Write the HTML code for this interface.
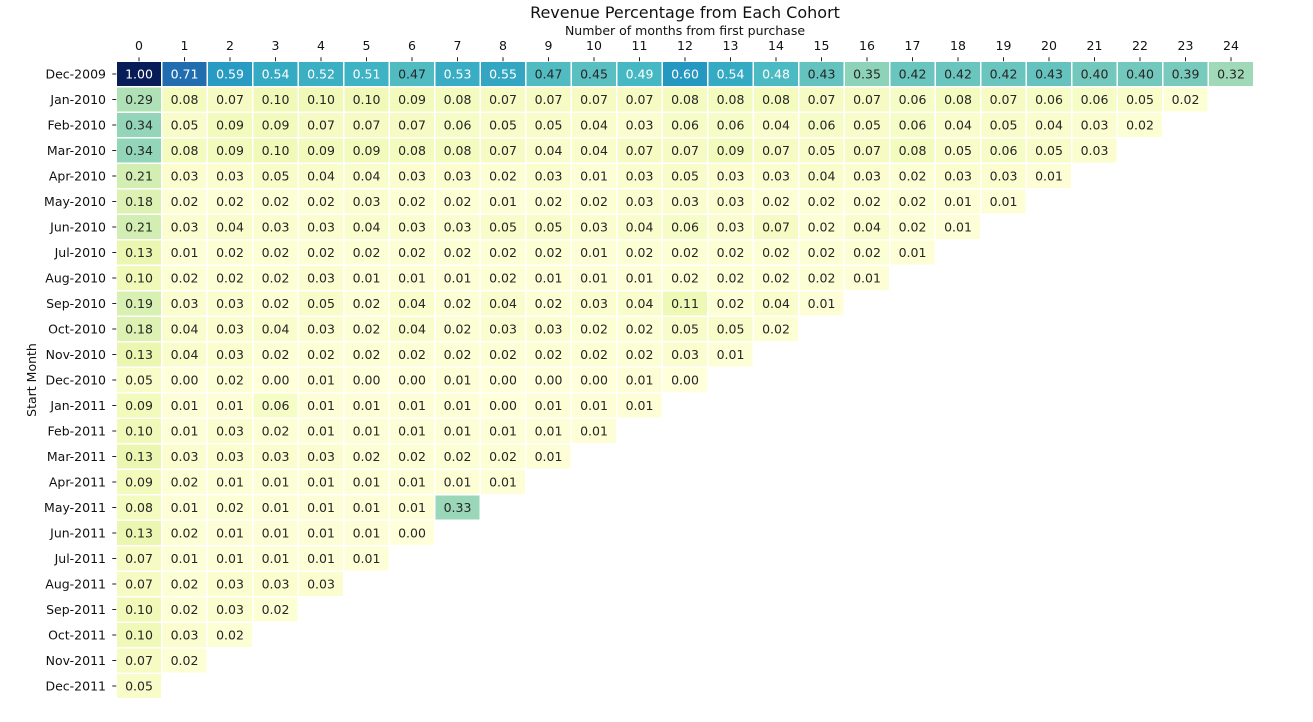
<!DOCTYPE html>
<html><head><meta charset="utf-8"><style>
body{margin:0;background:#fff;font-family:"Liberation Sans","DejaVu Sans",sans-serif;}
svg text{font-family:"DejaVu Sans","Liberation Sans",sans-serif;}
</style></head><body>
<svg id="chart" width="1313" height="717" xmlns="http://www.w3.org/2000/svg">
<text x="685" y="18" text-anchor="middle" font-size="16" fill="#111">Revenue Percentage from Each Cohort</text>
<text x="685" y="35" text-anchor="middle" font-size="12.5" fill="#111">Number of months from first purchase</text>
<text transform="translate(36,380) rotate(-90)" text-anchor="middle" font-size="12.5" fill="#111">Start Month</text>
<g id="cells"></g><g id="xt"></g><g id="yt"></g>
</svg>
<script>
const rowLabels=["Dec-2009","Jan-2010","Feb-2010","Mar-2010","Apr-2010","May-2010","Jun-2010","Jul-2010","Aug-2010","Sep-2010","Oct-2010","Nov-2010","Dec-2010","Jan-2011","Feb-2011","Mar-2011","Apr-2011","May-2011","Jun-2011","Jul-2011","Aug-2011","Sep-2011","Oct-2011","Nov-2011","Dec-2011"];
const colLabels=["0","1","2","3","4","5","6","7","8","9","10","11","12","13","14","15","16","17","18","19","20","21","22","23","24"];
const values=[
[1.00,.71,.59,.54,.52,.51,.47,.53,.55,.47,.45,.49,.60,.54,.48,.43,.35,.42,.42,.42,.43,.40,.40,.39,.32],
[.29,.08,.07,.10,.10,.10,.09,.08,.07,.07,.07,.07,.08,.08,.08,.07,.07,.06,.08,.07,.06,.06,.05,.02],
[.34,.05,.09,.09,.07,.07,.07,.06,.05,.05,.04,.03,.06,.06,.04,.06,.05,.06,.04,.05,.04,.03,.02],
[.34,.08,.09,.10,.09,.09,.08,.08,.07,.04,.04,.07,.07,.09,.07,.05,.07,.08,.05,.06,.05,.03],
[.21,.03,.03,.05,.04,.04,.03,.03,.02,.03,.01,.03,.05,.03,.03,.04,.03,.02,.03,.03,.01],
[.18,.02,.02,.02,.02,.03,.02,.02,.01,.02,.02,.03,.03,.03,.02,.02,.02,.02,.01,.01],
[.21,.03,.04,.03,.03,.04,.03,.03,.05,.05,.03,.04,.06,.03,.07,.02,.04,.02,.01],
[.13,.01,.02,.02,.02,.02,.02,.02,.02,.02,.01,.02,.02,.02,.02,.02,.02,.01],
[.10,.02,.02,.02,.03,.01,.01,.01,.02,.01,.01,.01,.02,.02,.02,.02,.01],
[.19,.03,.03,.02,.05,.02,.04,.02,.04,.02,.03,.04,.11,.02,.04,.01],
[.18,.04,.03,.04,.03,.02,.04,.02,.03,.03,.02,.02,.05,.05,.02],
[.13,.04,.03,.02,.02,.02,.02,.02,.02,.02,.02,.02,.03,.01],
[.05,.00,.02,.00,.01,.00,.00,.01,.00,.00,.00,.01,.00],
[.09,.01,.01,.06,.01,.01,.01,.01,.00,.01,.01,.01],
[.10,.01,.03,.02,.01,.01,.01,.01,.01,.01,.01],
[.13,.03,.03,.03,.03,.02,.02,.02,.02,.01],
[.09,.02,.01,.01,.01,.01,.01,.01,.01],
[.08,.01,.02,.01,.01,.01,.01,.33],
[.13,.02,.01,.01,.01,.01,.00],
[.07,.01,.01,.01,.01,.01],
[.07,.02,.03,.03,.03],
[.10,.02,.03,.02],
[.10,.03,.02],
[.07,.02],
[.05]];
const X0=116.25,CW=45.5,Y0=61.25,RH=25.5,VMAX=1.0;
const stops=["#ffffd9","#edf8b1","#c7e9b4","#7fcdbb","#41b6c4","#1d91c0","#225ea8","#253494","#081d58"].map(h=>[1,3,5].map(i=>parseInt(h.substr(i,2),16)));
function cmap(v){let t=Math.max(0,Math.min(1,v/VMAX))*(stops.length-1);let i=Math.min(Math.floor(t),stops.length-2),f=t-i;return stops[i].map((c,k)=>Math.round(c+(stops[i+1][k]-c)*f));}
function lum(c){const l=c.map(x=>{x/=255;return x<=0.03928?x/12.92:Math.pow((x+0.055)/1.055,2.4)});return .2126*l[0]+.7152*l[1]+.0722*l[2];}
const xs=j=>X0+j*CW, ys=i=>Y0+i*RH;
const NS="http://www.w3.org/2000/svg";
const cells=document.getElementById('cells'),xt=document.getElementById('xt'),yt=document.getElementById('yt');
function mk(tag,attrs,p){const e=document.createElementNS(NS,tag);for(const k in attrs)e.setAttribute(k,attrs[k]);p.appendChild(e);return e;}
values.forEach((row,i)=>row.forEach((v,j)=>{
 const c=cmap(v);
 const r=mk('rect',{x:xs(j),y:ys(i),width:CW,height:RH,fill:`rgb(${c})`,stroke:'#fff','stroke-width':1.5},cells);
 
 
 const t=mk('text',{x:xs(j)+CW/2,y:ys(i)+RH/2+4.5,'text-anchor':'middle','font-size':12.5,fill:lum(c)>0.408?'#262626':'#fff'},cells);
 
 
 t.textContent=v.toFixed(2);
}));
colLabels.forEach((l,j)=>{
 const t=mk('text',{x:xs(j)+CW/2,y:50,'text-anchor':'middle','font-size':12.5,fill:'#111'},xt);
 
 
 t.textContent=l;
 mk('line',{x1:xs(j)+CW/2,x2:xs(j)+CW/2,y1:Y0-4,y2:Y0,stroke:'#222'},xt);
});
rowLabels.forEach((l,i)=>{
 const t=mk('text',{x:106,y:ys(i)+RH/2+4.5,'text-anchor':'end','font-size':12.5,fill:'#111'},yt);
 
 
 t.textContent=l;
 mk('line',{x1:X0-4,x2:X0,y1:ys(i)+RH/2,y2:ys(i)+RH/2,stroke:'#222'},yt);
});
</script>
</body></html>
